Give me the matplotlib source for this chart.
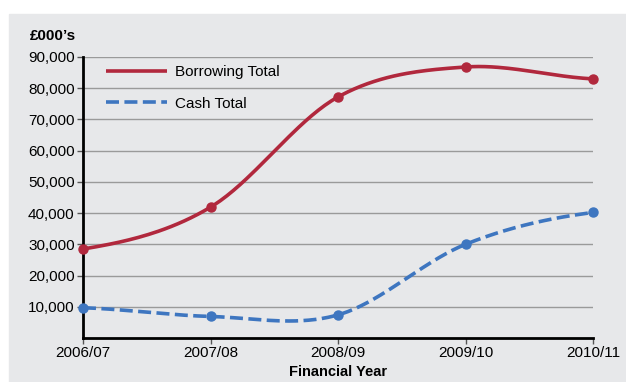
import numpy as np
import matplotlib
matplotlib.use("Agg")
import matplotlib.pyplot as plt

years = ["2006/07", "2007/08", "2008/09", "2009/10", "2010/11"]
borrowing = [28500, 41900, 77200, 86800, 83000]
cash = [9700, 6900, 7400, 30000, 40200]
yticks = [10000, 20000, 30000, 40000, 50000, 60000, 70000, 80000, 90000]

plt.rcParams['font.family'] = ['Liberation Sans', 'DejaVu Sans']

RED = "#b1283d"
BLUE = "#3e76c0"
BG = "#e7e8ea"


def smooth(y, n=40):
    y = np.asarray(y, float)
    x = np.arange(len(y), dtype=float)
    ext = np.concatenate([[y[0]], y, [y[-1]]])
    xs, ys = [], []
    for i in range(len(y) - 1):
        p0, p1 = ext[i + 1], ext[i + 2]
        m0 = (ext[i + 2] - ext[i]) / 2
        m1 = (ext[i + 3] - ext[i + 1]) / 2
        t = np.linspace(0, 1, n)
        h00 = 2 * t**3 - 3 * t**2 + 1
        h10 = t**3 - 2 * t**2 + t
        h01 = -2 * t**3 + 3 * t**2
        h11 = t**3 - t**2
        xs.append(x[i] + t)
        ys.append(h00 * p0 + h10 * m0 + h01 * p1 + h11 * m1)
    return np.concatenate(xs), np.concatenate(ys)


fig = plt.figure(figsize=(6.26, 3.82), dpi=100)
fig.patch.set_facecolor("white")
fig.patches.append(plt.Rectangle((9 / 626, 0), 1 - 9 / 626, 1 - 14 / 382,
                                 transform=fig.transFigure, color=BG, zorder=-10))

ax = fig.add_axes([83 / 626, 1 - 338 / 382, (593 - 83) / 626, (338 - 57) / 382])
ax.set_facecolor(BG)
x = np.arange(len(years))

for yt in yticks:
    ax.axhline(yt, color="#9a9a9a", lw=1.0, zorder=1)

sx, sy = smooth(borrowing)
ax.plot(sx, sy, color=RED, lw=2.6, zorder=3, label="Borrowing Total", solid_capstyle="butt")
ax.plot(x, borrowing, "o", color=RED, ms=6.5, zorder=4, clip_on=False)
sx, sy = smooth(cash)
ax.plot(sx, sy, color=BLUE, lw=2.6, zorder=3, dashes=(3.6, 1.5), label="Cash Total")
ax.plot(x, cash, "o", color=BLUE, ms=6.5, zorder=4, clip_on=False)

ax.set_xlim(0, 4)
ax.set_ylim(0, 90000)
ax.set_xticks(x)
ax.set_xticklabels(years, fontsize=11)
ax.set_yticks(yticks)
ax.set_yticklabels([f"{v:,}" for v in yticks], fontsize=11)
for s in ["top", "right"]:
    ax.spines[s].set_visible(False)
for s in ["left", "bottom"]:
    ax.spines[s].set_linewidth(2)
    ax.spines[s].set_color("black")
ax.tick_params(axis="both", length=4, width=1, color="#555555", pad=2)
ax.set_xlabel("Financial Year", fontsize=10.5, fontweight="bold", labelpad=3)

leg = ax.legend(loc="upper left", bbox_to_anchor=(0.018, 1.02), frameon=False,
                fontsize=11, handlelength=4.0, handletextpad=0.55, labelspacing=1.15)

fig.text(30 / 626, 1 - 36 / 382, "£000\u2019s", fontsize=11, fontweight="bold",
         va="center", ha="left")

fig.savefig("out.png", dpi=100, facecolor=fig.get_facecolor())
